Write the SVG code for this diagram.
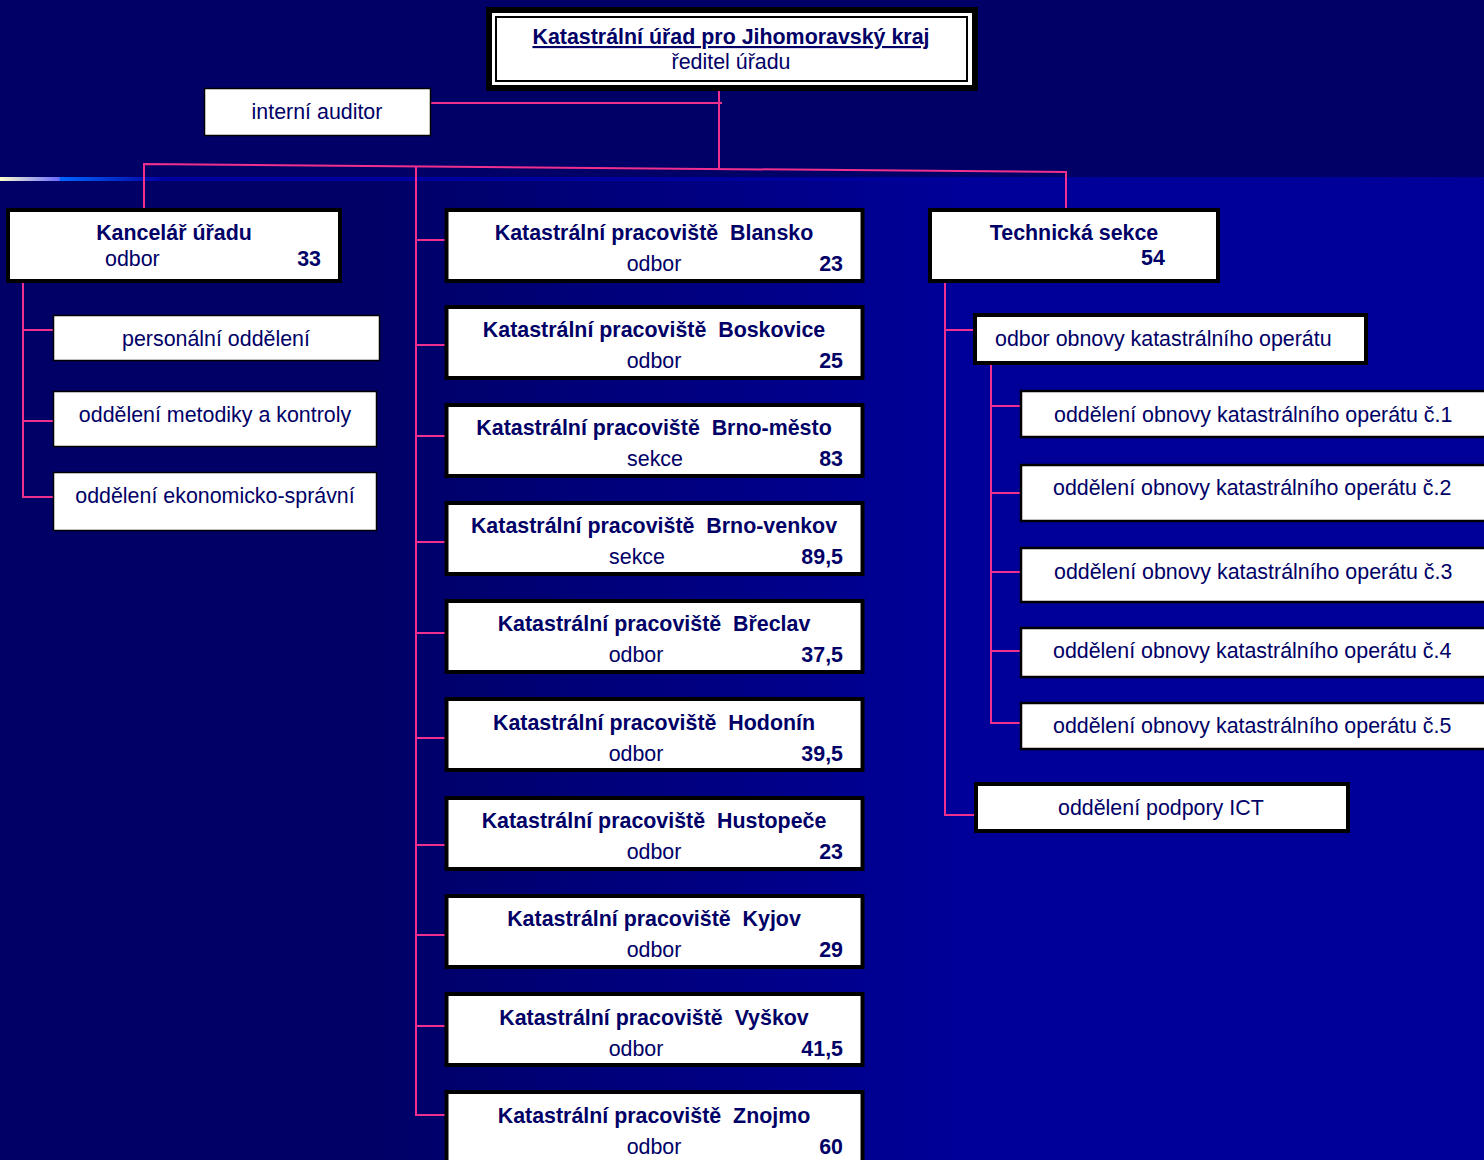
<svg xmlns="http://www.w3.org/2000/svg" width="1484" height="1160" viewBox="0 0 1484 1160">
<defs>
<linearGradient id="bgLow" x1="0" y1="0" x2="1484" y2="0" gradientUnits="userSpaceOnUse">
<stop offset="0.25" stop-color="#000066"/>
<stop offset="0.65" stop-color="#000099"/>
</linearGradient>
<linearGradient id="band" x1="0" y1="0" x2="1484" y2="0" gradientUnits="userSpaceOnUse">
<stop offset="0" stop-color="#ffffcc"/>
<stop offset="0.04" stop-color="#6a6aff"/>
<stop offset="0.0405" stop-color="#0066ff"/>
<stop offset="0.11" stop-color="#0000a0"/>
<stop offset="1" stop-color="#000099"/>
</linearGradient>
<style>
.t{font-family:"Liberation Sans",Arial,sans-serif;font-size:21.4px;fill:#000066}
.b{font-weight:bold}
.c{text-anchor:middle}
.r{text-anchor:end}
.thick{fill:#fff;stroke:#000;stroke-width:4}
.thin{fill:#fff;stroke:#000;stroke-width:1.5}
.mid{fill:#fff;stroke:#000;stroke-width:2.5}
.ln{stroke:#f0308f;stroke-width:2;fill:none}
</style>
</defs>
<rect x="0" y="0" width="1484" height="1160" fill="#000066"/>
<rect x="0" y="180" width="1484" height="980" fill="url(#bgLow)"/>
<rect x="0" y="177" width="1484" height="4" fill="url(#band)"/>

<g id="connectors">
<line class="ln" x1="719" y1="91" x2="719" y2="169"/>
<line class="ln" x1="431" y1="103" x2="722" y2="103"/>
<polyline class="ln" points="144,209 144,164 1066,172 1066,209"/>
<polyline class="ln" points="23,277 23,497 53,497"/>
<line class="ln" x1="23" y1="330" x2="53" y2="330"/>
<line class="ln" x1="23" y1="421" x2="53" y2="421"/>
<polyline class="ln" points="416,166 416,1115 446,1115"/>
<line class="ln" x1="416" y1="240" x2="446" y2="240"/>
<line class="ln" x1="416" y1="345" x2="446" y2="345"/>
<line class="ln" x1="416" y1="436" x2="446" y2="436"/>
<line class="ln" x1="416" y1="542" x2="446" y2="542"/>
<line class="ln" x1="416" y1="633" x2="446" y2="633"/>
<line class="ln" x1="416" y1="738" x2="446" y2="738"/>
<line class="ln" x1="416" y1="845" x2="446" y2="845"/>
<line class="ln" x1="416" y1="935" x2="446" y2="935"/>
<line class="ln" x1="416" y1="1026" x2="446" y2="1026"/>
<polyline class="ln" points="945,283 945,815 975,815"/>
<line class="ln" x1="945" y1="330" x2="975" y2="330"/>
<polyline class="ln" points="991,365 991,723 1021,723"/>
<line class="ln" x1="991" y1="406" x2="1021" y2="406"/>
<line class="ln" x1="991" y1="493" x2="1021" y2="493"/>
<line class="ln" x1="991" y1="572" x2="1021" y2="572"/>
<line class="ln" x1="991" y1="651" x2="1021" y2="651"/>
</g>

<g id="director">
<rect x="486" y="7" width="492" height="84" fill="#000"/>
<rect x="492" y="13" width="480" height="72" fill="#fff"/>
<rect x="496" y="17" width="471" height="64" fill="#fff" stroke="#000" stroke-width="2"/>
<text class="t b c" x="731" y="44" text-decoration="underline">Katastrální úřad pro Jihomoravský kraj</text>
<text class="t c" x="731" y="69">ředitel úřadu</text>
</g>

<g id="auditor">
<rect class="thin" x="204.5" y="88.5" width="226" height="47"/>
<text class="t c" x="317" y="119">interní auditor</text>
</g>

<g id="kancelar">
<rect class="thick" x="8" y="210" width="332" height="71"/>
<text class="t b c" x="174" y="240">Kancelář úřadu</text>
<text class="t" x="105" y="266">odbor</text>
<text class="t b r" x="321" y="266">33</text>
</g>
<g id="personalni">
<rect class="thin" x="53.5" y="315.5" width="326" height="45"/>
<text class="t c" x="216" y="346">personální oddělení</text>
</g>
<g id="metodiky">
<rect class="thin" x="53.5" y="391.5" width="323" height="55"/>
<text class="t c" x="215" y="422">oddělení metodiky a kontroly</text>
</g>
<g id="ekonomicko">
<rect class="thin" x="53.5" y="472.5" width="323" height="58"/>
<text class="t c" x="215" y="503">oddělení ekonomicko-správní</text>
</g>

<g id="blansko">
<rect class="thick" x="446.5" y="210" width="416" height="71"/>
<text class="t b c" x="654" y="240" xml:space="preserve">Katastrální pracoviště  Blansko</text>
<text class="t c" x="654" y="271">odbor</text>
<text class="t b r" x="843" y="271">23</text>
</g>
<g id="boskovice">
<rect class="thick" x="446.5" y="307" width="416" height="71"/>
<text class="t b c" x="654" y="337" xml:space="preserve">Katastrální pracoviště  Boskovice</text>
<text class="t c" x="654" y="368">odbor</text>
<text class="t b r" x="843" y="368">25</text>
</g>
<g id="brno-mesto">
<rect class="thick" x="446.5" y="405" width="416" height="71"/>
<text class="t b c" x="654" y="435" xml:space="preserve">Katastrální pracoviště  Brno-město</text>
<text class="t c" x="655" y="466">sekce</text>
<text class="t b r" x="843" y="466">83</text>
</g>
<g id="brno-venkov">
<rect class="thick" x="446.5" y="503" width="416" height="71"/>
<text class="t b c" x="654" y="533" xml:space="preserve">Katastrální pracoviště  Brno-venkov</text>
<text class="t c" x="637" y="564">sekce</text>
<text class="t b r" x="843" y="564">89,5</text>
</g>
<g id="breclav">
<rect class="thick" x="446.5" y="601" width="416" height="71"/>
<text class="t b c" x="654" y="631" xml:space="preserve">Katastrální pracoviště  Břeclav</text>
<text class="t c" x="636" y="662">odbor</text>
<text class="t b r" x="843" y="662">37,5</text>
</g>
<g id="hodonin">
<rect class="thick" x="446.5" y="699" width="416" height="71"/>
<text class="t b c" x="654" y="730" xml:space="preserve">Katastrální pracoviště  Hodonín</text>
<text class="t c" x="636" y="761">odbor</text>
<text class="t b r" x="843" y="761">39,5</text>
</g>
<g id="hustopece">
<rect class="thick" x="446.5" y="798" width="416" height="71"/>
<text class="t b c" x="654" y="828" xml:space="preserve">Katastrální pracoviště  Hustopeče</text>
<text class="t c" x="654" y="859">odbor</text>
<text class="t b r" x="843" y="859">23</text>
</g>
<g id="kyjov">
<rect class="thick" x="446.5" y="896" width="416" height="71"/>
<text class="t b c" x="654" y="926" xml:space="preserve">Katastrální pracoviště  Kyjov</text>
<text class="t c" x="654" y="957">odbor</text>
<text class="t b r" x="843" y="957">29</text>
</g>
<g id="vyskov">
<rect class="thick" x="446.5" y="994" width="416" height="71"/>
<text class="t b c" x="654" y="1025" xml:space="preserve">Katastrální pracoviště  Vyškov</text>
<text class="t c" x="636" y="1056">odbor</text>
<text class="t b r" x="843" y="1056">41,5</text>
</g>
<g id="znojmo">
<rect class="thick" x="446.5" y="1092" width="416" height="71"/>
<text class="t b c" x="654" y="1123" xml:space="preserve">Katastrální pracoviště  Znojmo</text>
<text class="t c" x="654" y="1154">odbor</text>
<text class="t b r" x="843" y="1154">60</text>
</g>

<g id="technicka">
<rect class="thick" x="930" y="210" width="288" height="71"/>
<text class="t b c" x="1074" y="240">Technická sekce</text>
<text class="t b c" x="1153" y="265">54</text>
</g>
<g id="odbor-obnovy">
<rect class="thick" x="975" y="315" width="391" height="48"/>
<text class="t" x="995" y="346">odbor obnovy katastrálního operátu</text>
</g>
<g id="obnova-1">
<rect class="mid" x="1021" y="391" width="470" height="46"/>
<text class="t" x="1054" y="422">oddělení obnovy katastrálního operátu č.1</text>
</g>
<g id="obnova-2">
<rect class="mid" x="1021" y="465" width="470" height="56"/>
<text class="t" x="1053" y="495">oddělení obnovy katastrálního operátu č.2</text>
</g>
<g id="obnova-3">
<rect class="mid" x="1021" y="548" width="470" height="54"/>
<text class="t" x="1054" y="579">oddělení obnovy katastrálního operátu č.3</text>
</g>
<g id="obnova-4">
<rect class="mid" x="1021" y="628" width="470" height="49"/>
<text class="t" x="1053" y="658">oddělení obnovy katastrálního operátu č.4</text>
</g>
<g id="obnova-5">
<rect class="mid" x="1021" y="703" width="470" height="46"/>
<text class="t" x="1053" y="733">oddělení obnovy katastrálního operátu č.5</text>
</g>
<g id="ict">
<rect class="thick" x="976" y="784" width="372" height="47"/>
<text class="t" x="1058" y="815">oddělení podpory ICT</text>
</g>
</svg>
